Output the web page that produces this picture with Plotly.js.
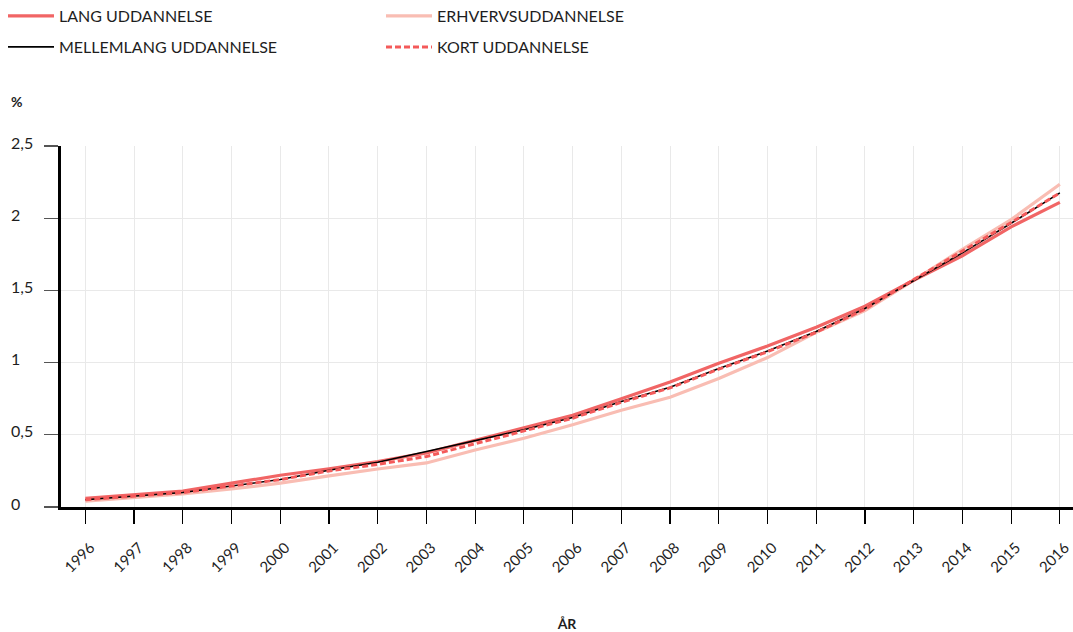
<!DOCTYPE html>
<html>
<head>
<meta charset="utf-8">
<script src="https://cdn.plot.ly/plotly-3.0.1.min.js"></script>
<style>html,body{margin:0;padding:0;background:#fff;}#chart{width:1073px;height:632px;}</style>
</head>
<body>
<div id="chart"></div>
<script>
var years = [1996,1997,1998,1999,2000,2001,2002,2003,2004,2005,2006,2007,2008,2009,2010,2011,2012,2013,2014,2015,2016];
var lang       = [0.06,0.085,0.11,0.165,0.22,0.265,0.315,0.375,0.46,0.545,0.635,0.75,0.865,0.995,1.115,1.245,1.39,1.57,1.74,1.94,2.11];
var mellemlang = [0.05,0.075,0.10,0.145,0.19,0.255,0.31,0.385,0.46,0.535,0.62,0.73,0.83,0.96,1.08,1.215,1.375,1.57,1.76,1.965,2.175];
var erhverv    = [0.04,0.065,0.09,0.125,0.165,0.215,0.263,0.305,0.395,0.476,0.57,0.67,0.76,0.89,1.035,1.21,1.36,1.57,1.785,1.99,2.235];
var kort       = [0.05,0.075,0.10,0.145,0.19,0.25,0.295,0.35,0.44,0.525,0.615,0.725,0.825,0.955,1.075,1.21,1.37,1.575,1.77,1.97,2.175];
var names = ["LANG UDDANNELSE","MELLEMLANG UDDANNELSE","ERHVERVSUDDANNELSE","KORT UDDANNELSE"];
var yTicks = [0,0.5,1,1.5,2,2.5];
var yTickText = ["0","0,5","1","1,5","2","2,5"];
var xTitle = "ÅR";
var yTitle = "%";

var FONT = "Lato, 'Open Sans', sans-serif";
var TXT = "#1e1e1e";

var traces = [
  {x: years, y: erhverv, name: names[2], mode: "lines", line: {color: "#f9bdb3", width: 3.2}, legend: "legend3"},
  {x: years, y: lang, name: names[0], mode: "lines", line: {color: "#f16565", width: 3.2}, legend: "legend"},
  {x: years, y: mellemlang, name: names[1], mode: "lines", line: {color: "#000000", width: 1.6}, legend: "legend2"},
  {x: years, y: kort, name: names[3], mode: "lines", line: {color: "#f45a5a", width: 3, dash: "6px,3px"}, legend: "legend4"}
];

var W = 1073, H = 632, ML = 61, MR = 0, MT = 146, MB = 125;
var plotW = W - ML - MR;

function lg(x, y) {
  return {xref: "container", yref: "container", x: x / W, y: 1 - y / H, xanchor: "left", yanchor: "middle",
          itemwidth: 46, font: {family: FONT, size: 16, color: TXT}, bgcolor: "rgba(0,0,0,0)", borderwidth: 0};
}

var annotations = yTicks.map(function (v, i) {
  return {xref: "paper", yref: "y", x: (9 - ML) / plotW, y: v, xanchor: "left", yanchor: "middle",
          yshift: 4, text: yTickText[i], showarrow: false, font: {family: FONT, size: 16, color: TXT}};
});
annotations.push({xref: "paper", yref: "paper", x: (9 - ML) / plotW, y: 1 + (146 - 101) / (H - MT - MB),
  xanchor: "left", yanchor: "middle", text: "<b>" + yTitle + "</b>", showarrow: false,
  font: {family: FONT, size: 14, color: TXT}});

var layout = {
  width: W, height: H,
  margin: {l: ML, r: MR, t: MT, b: MB, pad: 0, autoexpand: false},
  paper_bgcolor: "#ffffff", plot_bgcolor: "#ffffff",
  font: {family: FONT, size: 15, color: TXT},
  showlegend: true,
  legend: lg(3, 16),
  legend2: lg(3, 47),
  legend3: lg(381, 16),
  legend4: lg(381, 47),
  xaxis: {
    range: [1995.5, 2016.27], tickmode: "array", tickvals: years, ticktext: years.map(String),
    tickangle: -45, ticks: "outside", ticklen: 14, tickwidth: 1.2, tickcolor: "#000",
    ticklabelshift: 5, ticklabelstandoff: 9, ticklabeloverflow: "allow",
    showline: true, linecolor: "#000", linewidth: 3,
    showgrid: true, gridcolor: "#e9e9e9", gridwidth: 1, zeroline: false,
    tickfont: {family: FONT, size: 15, color: TXT},
    automargin: false,
    title: {text: "<b>" + xTitle + "</b>", font: {family: FONT, size: 14, color: TXT}, standoff: 46}
  },
  yaxis: {
    range: [0, 2.5], tickmode: "array", tickvals: yTicks, ticktext: yTickText, showticklabels: false,
    ticks: "outside", ticklen: 14, tickwidth: 1.2, tickcolor: "#555",
    showline: true, linecolor: "#000", linewidth: 3, automargin: false,
    showgrid: true, gridcolor: "#e9e9e9", gridwidth: 1, zeroline: false
  },
  annotations: annotations
};

Plotly.newPlot("chart", traces, layout, {displayModeBar: false, staticPlot: true});
</script>
</body>
</html>
